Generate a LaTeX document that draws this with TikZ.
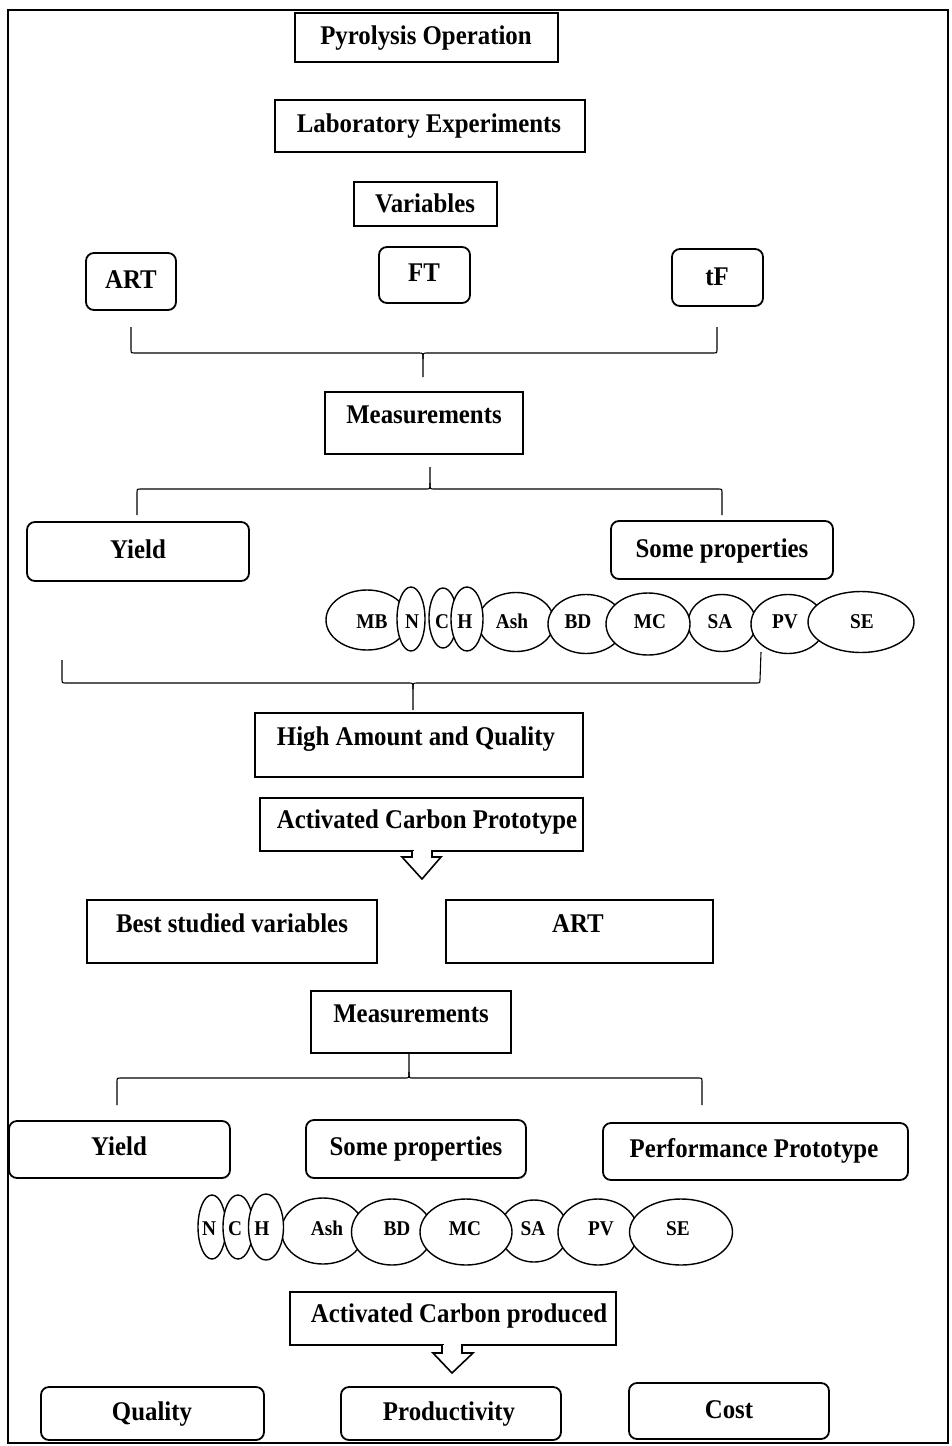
\documentclass[tikz,border=0pt]{standalone}
\usepackage{fontspec}
\setmainfont{Liberation Serif}[FakeStretch=0.92]
\usetikzlibrary{shapes.geometric}
\tikzset{
 sq/.style={draw, line width=1.8pt, inner sep=0pt, outer sep=0pt, fill=white},
 rd/.style={sq, rounded corners=8pt},
 ell/.style={draw, ellipse, line width=1.4pt, fill=white, inner sep=0pt, outer sep=0pt},
 lbl/.style={anchor=base, inner sep=0pt, font=\bfseries\fontsize{27}{31}\selectfont},
 elbl/.style={anchor=base, inner sep=0pt, font=\bfseries\fontsize{21}{25}\selectfont},
 brk/.style={line width=1.1pt},
 callout/.style={line width=1.6pt, line join=miter, fill=white},
}
\newcommand\bx[6]{\node[#1, minimum width={#5-#3}, minimum height={#6-#4}] (#2) at ({(#3+#5)/2},{(#4+#6)/2}) {};}
\newcommand\el[5]{\node[ell, minimum width=#4, minimum height=#5] (#1) at (#2,#3) {};}
\begin{document}
\begin{tikzpicture}[x=1pt,y=-1pt]
\useasboundingbox (0,0) rectangle (951,1446);
\draw[line width=1.5pt] (8,10) rectangle (948,1443);

% top boxes
\bx{sq}{pyro}{295}{13}{558}{62}
\node[lbl] (tpyro) at (426,44) {Pyrolysis Operation};
\bx{sq}{lab}{275}{100}{585}{152}
\node[lbl] (tlab) at (429,132) {Laboratory Experiments};
\bx{sq}{var}{354}{182}{497}{226}
\node[lbl] (tvar) at (425,212) {Variables};

\bx{rd}{art1}{86}{253}{176}{310}
\node[lbl] (tart1) at (131,288) {ART};
\bx{rd}{ft}{379}{247}{470}{303}
\node[lbl] (tft) at (424,281) {FT};
\bx{rd}{tf}{672}{249}{763}{306}
\node[lbl] (ttf) at (717,285) {tF};

% bracket 1
\coordinate (b1l) at (131,327);
\coordinate (b1r) at (717,327);
\coordinate (b1c) at (423,377);
\draw[brk] (b1l) -- (131,350) .. controls (131,353) .. (134,353) -- (419,353) .. controls (423,353) .. (423,359) -- (b1c);
\draw[brk] (b1r) -- (717,350) .. controls (717,353) .. (714,353) -- (427,353) .. controls (423,353) .. (423,359);

\bx{sq}{meas1}{325}{392}{523}{454}
\node[lbl] (tmeas1) at (424,423) {Measurements};

% bracket 2
\coordinate (b2c) at (430,467);
\coordinate (b2l) at (137,515);
\coordinate (b2r) at (722,515);
\draw[brk] (b2c) -- (430,483) .. controls (430,489) .. (426,489) -- (140,489) .. controls (137,489) .. (137,492) -- (b2l);
\draw[brk] (430,483) .. controls (430,489) .. (434,489) -- (719,489) .. controls (722,489) .. (722,492) -- (b2r);

\bx{rd}{yield1}{27}{522}{249}{581}
\node[lbl] (tyield1) at (138,558) {Yield};
\bx{rd}{some1}{611}{521}{833}{579}
\node[lbl] (tsome1) at (722,557) {Some properties};

% ellipses row 1
\el{mb1}{367}{620}{82}{60}
\el{c1}{443}{618}{28}{60}
\el{n1}{411}{619}{28}{64}
\el{ash1}{516}{622}{76}{59}
\el{h1}{467}{619}{32}{64}
\el{sa1}{722}{623}{68}{57}
\el{bd1}{586}{624}{76}{59}
\el{mc1}{648}{624}{84}{62}
\el{pv1}{788}{624}{74}{59}
\el{se1}{861}{622}{106}{61}
\node[elbl] (tmb1) at (372,628) {MB};
\node[elbl] (tn1) at (412,628) {N};
\node[elbl] (tc1) at (442,628) {C};
\node[elbl] (th1) at (465,628) {H};
\node[elbl] (tash1) at (512,628) {Ash};
\node[elbl] (tbd1) at (578,628) {BD};
\node[elbl] (tmc1) at (650,628) {MC};
\node[elbl] (tsa1) at (720,628) {SA};
\node[elbl] (tpv1) at (785,628) {PV};
\node[elbl] (tse1) at (862,628) {SE};

% bracket 3
\coordinate (b3l) at (62,660);
\coordinate (b3r) at (761,652);
\coordinate (b3c) at (413,710);
\draw[brk] (b3l) -- (62,680) .. controls (62,683) .. (65,683) -- (409,683) .. controls (413,683) .. (413,689) -- (b3c);
\draw[brk] (b3r) -- (760,680) .. controls (760,683) .. (757,683) -- (417,683) .. controls (413,683) .. (413,689);

\bx{sq}{high}{255}{713}{583}{777}
\node[lbl] (thigh) at (416,745) {High Amount and Quality};

\bx{sq}{acp}{260}{798}{583}{851}
\node[lbl] (tacp) at (427,828) {Activated Carbon Prototype};
\fill[white] (413.5,848) rectangle (430.5,854);
\draw[callout] (412,851) -- (412,857) -- (402,857) -- (422,879) -- (441,857) -- (432,857) -- (432,851);

\bx{sq}{best}{87}{900}{377}{963}
\node[lbl] (tbest) at (232,932) {Best studied variables};
\bx{sq}{art2}{446}{900}{713}{963}
\node[lbl] (tart2) at (578,932) {ART};

\bx{sq}{meas2}{311}{991}{511}{1053}
\node[lbl] (tmeas2) at (411,1022) {Measurements};

% bracket 4
\coordinate (b4c) at (409,1054);
\coordinate (b4l) at (117,1105);
\coordinate (b4r) at (702,1105);
\draw[brk] (b4c) -- (409,1072) .. controls (409,1078) .. (405,1078) -- (120,1078) .. controls (117,1078) .. (117,1081) -- (b4l);
\draw[brk] (409,1072) .. controls (409,1078) .. (413,1078) -- (699,1078) .. controls (702,1078) .. (702,1081) -- (b4r);

\bx{rd}{yield2}{9}{1121}{230}{1178}
\node[lbl] (tyield2) at (119,1155) {Yield};
\bx{rd}{some2}{306}{1120}{526}{1178}
\node[lbl] (tsome2) at (416,1155) {Some properties};
\bx{rd}{perf}{603}{1123}{908}{1180}
\node[lbl] (tperf) at (754,1157) {Performance Prototype};

% ellipses row 2
\el{n2}{212}{1227}{28}{64}
\el{c2}{238}{1227}{30}{64}
\el{ash2}{323}{1231}{83}{66}
\el{h2}{266}{1227}{35}{66}
\el{bd2}{392}{1232}{81}{66}
\el{sa2}{534}{1231}{68}{62}
\el{mc2}{466}{1232}{92}{66}
\el{pv2}{598}{1232}{80}{66}
\el{se2}{681}{1232}{103}{66}
\node[elbl] (tn2) at (209,1235) {N};
\node[elbl] (tc2) at (235,1235) {C};
\node[elbl] (th2) at (262,1235) {H};
\node[elbl] (tash2) at (327,1235) {Ash};
\node[elbl] (tbd2) at (397,1235) {BD};
\node[elbl] (tmc2) at (465,1235) {MC};
\node[elbl] (tsa2) at (533,1235) {SA};
\node[elbl] (tpv2) at (601,1235) {PV};
\node[elbl] (tse2) at (678,1235) {SE};

\bx{sq}{acprod}{290}{1292}{616}{1345}
\node[lbl] (tacprod) at (459,1322) {Activated Carbon produced};
\fill[white] (443.5,1342) rectangle (460.5,1348);
\draw[callout] (442,1345) -- (442,1353) -- (433,1353) -- (452,1373) -- (473,1353) -- (462,1353) -- (462,1345);

\bx{rd}{quality}{41}{1387}{264}{1440}
\node[lbl] (tquality) at (152,1420) {Quality};
\bx{rd}{prod}{341}{1387}{561}{1440}
\node[lbl] (tprod) at (449,1420) {Productivity};
\bx{rd}{cost}{629}{1383}{829}{1439}
\node[lbl] (tcost) at (729,1418) {Cost};
\end{tikzpicture}
\end{document}
